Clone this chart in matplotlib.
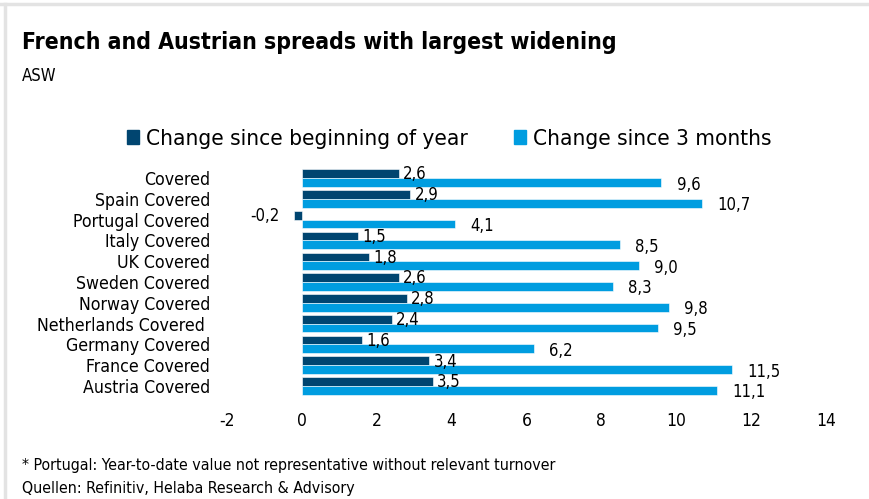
import matplotlib
matplotlib.use('Agg')
import matplotlib.pyplot as plt
import numpy as np
from matplotlib.lines import Line2D
from matplotlib.patches import Patch

plt.rcParams['font.family'] = ['DejaVu Sans']
plt.rcParams['font.stretch'] = 'condensed'

categories = ['Covered', 'Spain Covered', 'Portugal Covered', 'Italy Covered', 'UK Covered',
              'Sweden Covered', 'Norway Covered', 'Netherlands Covered ', 'Germany Covered',
              'France Covered', 'Austria Covered']
ytd = [2.6, 2.9, -0.2, 1.5, 1.8, 2.6, 2.8, 2.4, 1.6, 3.4, 3.5]
three_m = [9.6, 10.7, 4.1, 8.5, 9.0, 8.3, 9.8, 9.5, 6.2, 11.5, 11.1]
series_names = ['Change since beginning of year', 'Change since 3 months']
xticks = [-2, 0, 2, 4, 6, 8, 10, 12, 14]

dark = '#004570'
light = '#009de0'

fig = plt.figure(figsize=(8.69, 4.99), dpi=100)
ax = fig.add_axes([0.2612, 0.2056, 0.6893, 0.4584])

y = np.arange(len(categories))
h = 0.42
ax.barh(y - h / 2, ytd, height=h, color=dark, edgecolor='white', linewidth=0.4)
ax.barh(y + h / 2, three_m, height=h, color=light, edgecolor='white', linewidth=0.4)

# Datenbeschriftungen mit Dezimalkomma
for yi, v in zip(y, ytd):
    txt = f'{v:.1f}'.replace('.', ',')
    if v >= 0:
        ax.annotate(txt, (v, yi - h / 2), xytext=(3, -0.5), textcoords='offset points',
                    ha='left', va='center', fontsize=12)
    else:
        ax.annotate(txt, (v, yi - h / 2), xytext=(-11, -0.5), textcoords='offset points',
                    ha='right', va='center', fontsize=12)
for yi, v in zip(y, three_m):
    txt = f'{v:.1f}'.replace('.', ',')
    ax.annotate(txt, (v, yi + h / 2), xytext=(11, -1.5), textcoords='offset points',
                ha='left', va='center', fontsize=12)

ax.set_xlim(-2, 14)
ax.set_ylim(len(categories) - 0.5, -0.5)
ax.set_xticks(xticks)
ax.set_xticklabels([str(t) for t in xticks], fontsize=12.5)
ax.set_yticks(y)
ax.set_yticklabels(categories, fontsize=12.7)
ax.tick_params(length=0)
ax.tick_params(axis='x', pad=11)
ax.tick_params(axis='y', pad=12)
for s in ax.spines.values():
    s.set_visible(False)

handles = [Patch(color=dark), Patch(color=light)]
fig.legend(handles, series_names, loc='center', bbox_to_anchor=(0.517, 0.722), ncol=2,
           frameon=False, fontsize=16.2, handlelength=0.55, handleheight=0.55,
           handletextpad=0.3, columnspacing=2.05)

fig.text(0.025, 0.915, 'French and Austrian spreads with largest widening',
         fontsize=16.5, fontweight='bold', va='center')
fig.text(0.025, 0.848, 'ASW', fontsize=12, va='center')
fig.text(0.025, 0.068, '* Portugal: Year-to-date value not representative without relevant turnover',
         fontsize=11.4, va='center')
fig.text(0.025, 0.022, 'Quellen: Refinitiv, Helaba Research & Advisory', fontsize=11.4, va='center')

fig.add_artist(Line2D([0, 1], [0.992, 0.992], color='#e3e3e3', lw=2.5))
fig.add_artist(Line2D([0.006, 0.006], [0, 0.992], color='#e3e3e3', lw=2.5))

fig.savefig('out.png', dpi=100)
